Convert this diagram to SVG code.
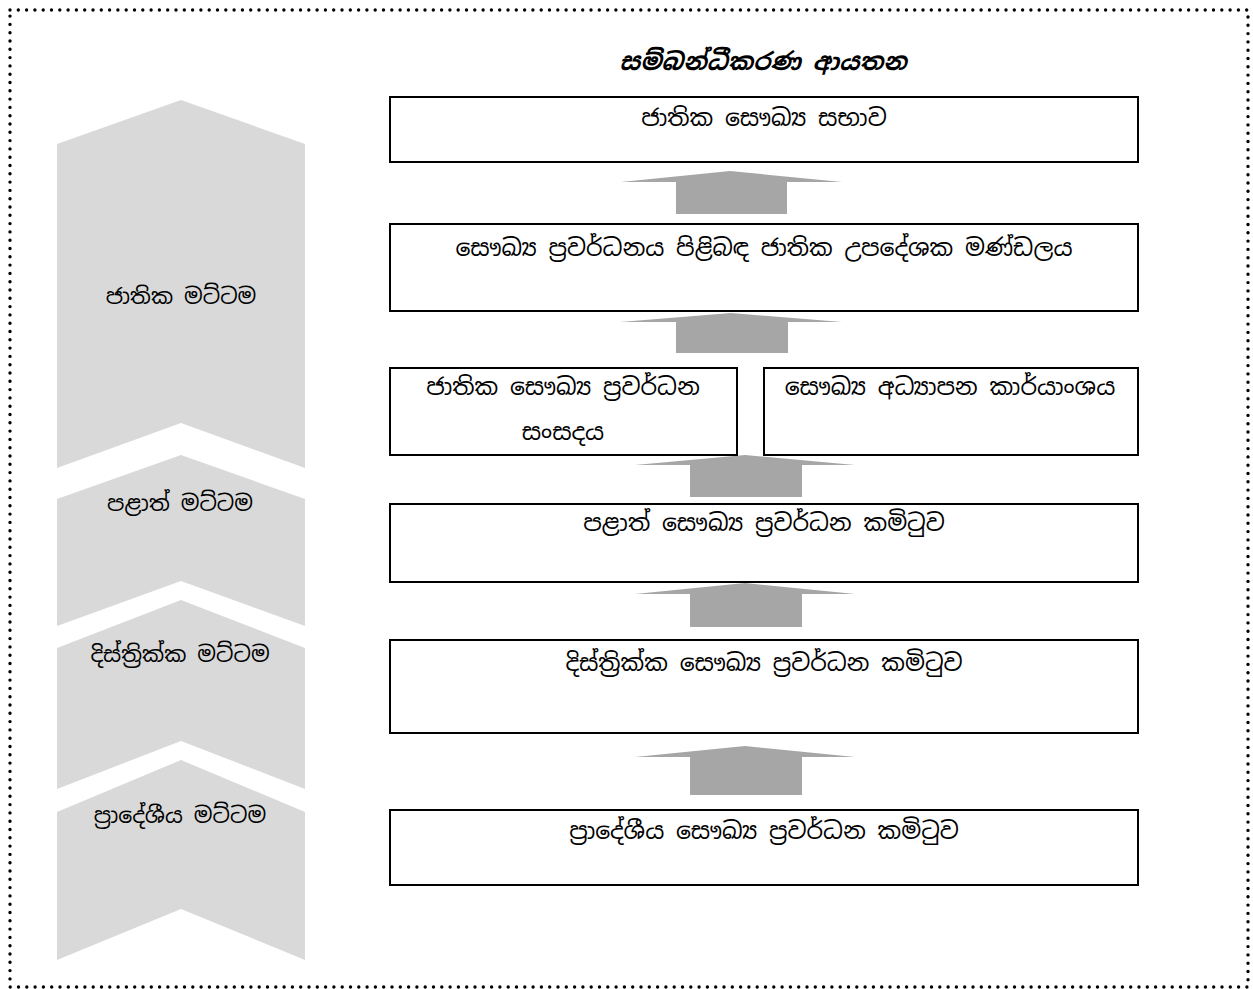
<svg xmlns="http://www.w3.org/2000/svg" width="1253" height="989" viewBox="0 0 1253 989">
<style>
.lvl{fill:#D9D9D9}
.box{fill:#FFFFFF;stroke:#000000;stroke-width:2}
.arr{fill:#A6A6A6}
.t{font-family:"Noto Sans Sinhala","Iskoola Pota","Noto Serif Sinhala","Noto Sans","DejaVu Sans",sans-serif;font-size:23.5px;fill:#000000;text-anchor:middle}
.lbl{font-size:22px}
.title{font-family:"Noto Sans Sinhala","Iskoola Pota","Noto Sans","DejaVu Sans",sans-serif;font-size:24px;font-weight:bold;font-style:italic;fill:#000000;text-anchor:middle}
</style>
<rect width="1253" height="989" fill="#FFFFFF"/>
<rect x="10" y="10" width="1238" height="977" fill="none" stroke="#000000" stroke-width="3.4" stroke-dasharray="0 8.3" stroke-linecap="round"/>
<g id="level-national">
<polygon class="lvl" points="57,144 181,100 305,144 305,468 181,423 57,468"/>
<text class="t lbl" x="181" y="304">ජාතික මට්ටම</text>
</g>
<g id="level-provincial">
<polygon class="lvl" points="57,499 181,455 305,499 305,626 181,581 57,626"/>
<text class="t lbl" x="180" y="511">පළාත් මට්ටම</text>
</g>
<g id="level-district">
<polygon class="lvl" points="57,648 181,600 305,648 305,789 181,741 57,789"/>
<text class="t lbl" x="180" y="662">දිස්ත්‍රික්ක මට්ටම</text>
</g>
<g id="level-divisional">
<polygon class="lvl" points="57,812 181,760 305,812 305,960 181,909 57,960"/>
<text class="t lbl" x="180" y="823">ප්‍රාදේශීය මට්ටම</text>
</g>
<text class="title" x="763" y="70">සම්බන්ධීකරණ ආයතන</text>
<g id="connectors">
<polygon class="arr" points="730,171 842,182 787,182 787,214 676,214 676,182 621,182"/>
<polygon class="arr" points="731,313 842,322 788,322 788,353 676,353 676,322 620,322"/>
<polygon class="arr" points="745,455 855,465 802,465 802,497 690,497 690,465 635,465"/>
<polygon class="arr" points="745,583 855,594 802,594 802,627 690,627 690,594 635,594"/>
<polygon class="arr" points="745,746 855,757 802,757 802,795 690,795 690,757 635,757"/>
</g>
<g id="node-national-health-council">
<rect class="box" x="390" y="97" width="748" height="65"/>
<text class="t" x="764" y="126">ජාතික සෞඛ්‍ය සභාව</text>
</g>
<g id="node-advisory-board">
<rect class="box" x="390" y="224" width="748" height="87"/>
<text class="t" x="764" y="256">සෞඛ්‍ය ප්‍රවර්ධනය පිළිබඳ ජාතික උපදේශක මණ්ඩලය</text>
</g>
<g id="node-forum">
<rect class="box" x="390" y="368" width="347" height="87"/>
<text class="t" x="563" y="395">ජාතික සෞඛ්‍ය ප්‍රවර්ධන</text>
<text class="t" x="563" y="440">සංසදය</text>
</g>
<g id="node-bureau">
<rect class="box" x="764" y="368" width="374" height="87"/>
<text class="t" x="950" y="395">සෞඛ්‍ය අධ්‍යාපන කාර්යාංශය</text>
</g>
<g id="node-provincial">
<rect class="box" x="390" y="504" width="748" height="78"/>
<text class="t" x="764" y="531">පළාත් සෞඛ්‍ය ප්‍රවර්ධන කමිටුව</text>
</g>
<g id="node-district">
<rect class="box" x="390" y="640" width="748" height="93"/>
<text class="t" x="764" y="671">දිස්ත්‍රික්ක සෞඛ්‍ය ප්‍රවර්ධන කමිටුව</text>
</g>
<g id="node-divisional">
<rect class="box" x="390" y="810" width="748" height="75"/>
<text class="t" x="764" y="839">ප්‍රාදේශීය සෞඛ්‍ය ප්‍රවර්ධන කමිටුව</text>
</g>
</svg>
